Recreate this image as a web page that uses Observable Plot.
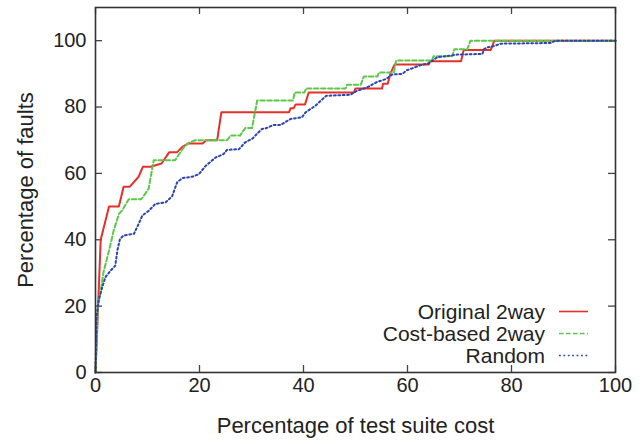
<!DOCTYPE html>
<html>
<head>
<meta charset="utf-8">
<script src="https://cdn.jsdelivr.net/npm/d3@7"></script>
<script src="https://cdn.jsdelivr.net/npm/@observablehq/plot@0.6"></script>
<style>
  body { margin: 0; background: #fff; }
  #chart svg { display: block; }
</style>
</head>
<body>
<div id="chart"></div>
<script>
// Cumulative fault detection vs. share of test suite cost, [cost %, faults %]
const original2way = [
  [0, 0], [0.5, 20], [1, 40], [2.6, 50], [4.5, 50], [5.4, 56], [6.6, 56], [8.3, 59],
  [9.1, 62], [10.6, 62], [12.7, 63], [14.2, 66.4], [15.7, 66.4], [16.7, 68], [17.8, 69],
  [20.6, 69], [21.3, 70], [23.4, 70], [24.2, 78.4], [37.2, 78.4], [37.5, 79.6], [38.1, 79.6],
  [38.5, 80.8], [40.3, 80.8], [41, 84.4], [49.7, 84.4], [50, 85.6], [55.1, 85.6], [55.3, 87],
  [56.2, 87], [56.7, 90], [57.5, 92.8], [64.1, 92.8], [64.3, 93.8], [70.3, 93.8], [70.8, 97.2],
  [76, 97.2], [76.7, 100], [100, 100]
];

const costBased2way = [
  [0, 0], [0.45, 20], [1, 24.7], [1.6, 30.7], [2.6, 36.7], [3.5, 42.8], [4.5, 47.8], [5.1, 48.8],
  [6.4, 52.2], [8.8, 52.2], [10.2, 55.3], [11.2, 64], [15.3, 64], [17, 67.9], [17.9, 69.2],
  [19.2, 70], [25.3, 70], [26, 71.4], [27.8, 71.4], [28.8, 73.7], [30.1, 73.7], [31.1, 82],
  [38, 82], [38.3, 84.4], [40.2, 84.4], [40.5, 85.6], [48.1, 85.6], [48.4, 86.7], [51, 86.7],
  [51.6, 89.2], [54.2, 89.2], [54.5, 90.4], [57.4, 90.4], [57.8, 94], [64.7, 94], [65, 95.3],
  [68.6, 95.3], [69, 97.4], [71.5, 97.4], [72.1, 100], [100, 100]
];

const random = [
  [0, 0], [0.2, 16.7], [0.6, 21.7], [1.3, 25.7], [1.9, 28.7], [2.9, 30.7], [3.8, 32.2],
  [4.2, 36.7], [4.7, 40.2], [5.4, 41.3], [7.4, 41.8], [8.3, 44.8], [9, 47.3], [10.3, 48.8],
  [11.5, 50.8], [13.5, 51.3], [14.7, 53], [15.7, 57.3], [16.7, 58.6], [18.6, 59], [19.9, 59.8],
  [21.2, 62.3], [23.1, 64.8], [24.6, 65.8], [25.3, 67.1], [27.6, 67.3], [28.8, 69.4],
  [30.2, 70.5], [31.1, 72], [32, 73.4], [32.8, 73.6], [34.2, 74.6], [35.6, 74.6], [37.5, 76.4],
  [39.7, 76.9], [40.4, 78.4], [42.3, 80.4], [43.3, 81.9], [44.4, 83.4], [49, 83.7],
  [50.3, 84.9], [52.2, 85.9], [54.2, 87.6], [55.8, 88.4], [57.1, 89.8], [59, 90], [59.9, 91.1],
  [62.5, 92.6], [64.1, 93.2], [65.7, 95], [68.3, 95.5], [69.5, 95.8], [74.4, 96], [74.7, 97.4],
  [75.3, 98], [76.3, 98.2], [77.9, 99.1], [87.5, 99.3], [88.5, 100], [100, 100]
];

const seriesNames = ["Original 2way", "Cost-based 2way", "Random"];
const xTicks = [0, 20, 40, 60, 80, 100];
const yTicks = [0, 20, 40, 60, 80, 100];
const xTitle = "Percentage of test suite cost";
const yTitle = "Percentage of faults";

const W = 644, H = 444;
const M = {top: 7, right: 29, bottom: 72, left: 95};
const innerW = W - M.left - M.right;
const innerH = H - M.top - M.bottom;
const FONT = "'Liberation Sans', Arial, Helvetica, sans-serif";
const INK = "#222";
const TICK_LEN = 7;

const styles = [
  {stroke: "#e4302a", strokeWidth: 2, strokeDasharray: null},
  {stroke: "#5cc84a", strokeWidth: 2, strokeDasharray: "4.5,2.5"},
  {stroke: "#2b44b0", strokeWidth: 2, strokeDasharray: "1.8,2.6"}
];
const seriesData = [original2way, costBased2way, random];

// Key drawn inside the lower-right corner of the frame
function key(index, scales, values, dims) {
  const d = dims || {width: W, height: H, marginRight: M.right, marginBottom: M.bottom};
  const right = d.width - d.marginRight;
  const bottom = d.height - d.marginBottom;
  const g = d3.create("svg:g");
  seriesNames.forEach((name, i) => {
    const cy = bottom - 16.5 - (seriesNames.length - 1 - i) * 22;
    g.append("text")
      .attr("x", right - 70).attr("y", cy).attr("dy", "0.35em")
      .attr("text-anchor", "end")
      .attr("font-size", 21).attr("fill", INK)
      .text(name);
    g.append("line")
      .attr("x1", right - 56).attr("x2", right - 27)
      .attr("y1", cy).attr("y2", cy)
      .attr("stroke", styles[i].stroke)
      .attr("stroke-width", 1.6)
      .attr("stroke-dasharray", styles[i].strokeDasharray);
  });
  return g.node();
}

const chart = Plot.plot({
  width: W,
  height: H,
  marginTop: M.top,
  marginRight: M.right,
  marginBottom: M.bottom,
  marginLeft: M.left,
  style: {fontFamily: FONT, color: INK, background: "#fff"},
  x: {domain: [0, 100]},
  y: {domain: [0, 110]},
  marks: [
    // inward ticks on all four sides
    Plot.tickX(xTicks, {x: d => d, insetTop: innerH - TICK_LEN, stroke: "#444", strokeWidth: 1.3}),
    Plot.tickX(xTicks, {x: d => d, insetBottom: innerH - TICK_LEN, stroke: "#444", strokeWidth: 1.3}),
    Plot.tickY(yTicks, {y: d => d, insetRight: innerW - TICK_LEN, stroke: "#444", strokeWidth: 1.3}),
    Plot.tickY(yTicks, {y: d => d, insetLeft: innerW - TICK_LEN, stroke: "#444", strokeWidth: 1.3}),
    Plot.axisX(xTicks, {tickSize: 0, tickPadding: 5, fontSize: 20, label: null, fill: INK}),
    Plot.axisY(yTicks, {tickSize: 0, tickPadding: 9, fontSize: 20, label: null, fill: INK}),
    Plot.text([xTitle], {frameAnchor: "bottom", dy: 60, fontSize: 22, fill: INK}),
    Plot.text([yTitle], {frameAnchor: "left", textAnchor: "middle", rotate: -90, dx: -70, fontSize: 22, fill: INK}),
    ...seriesData.map((data, i) => Plot.line(data, {
      x: d => d[0],
      y: d => d[1],
      stroke: styles[i].stroke,
      strokeWidth: styles[i].strokeWidth,
      strokeDasharray: styles[i].strokeDasharray,
      curve: "linear"
    })),
    key,
    Plot.frame({stroke: "#333", strokeWidth: 1.6})
  ]
});

document.getElementById("chart").append(chart);
</script>
</body>
</html>
